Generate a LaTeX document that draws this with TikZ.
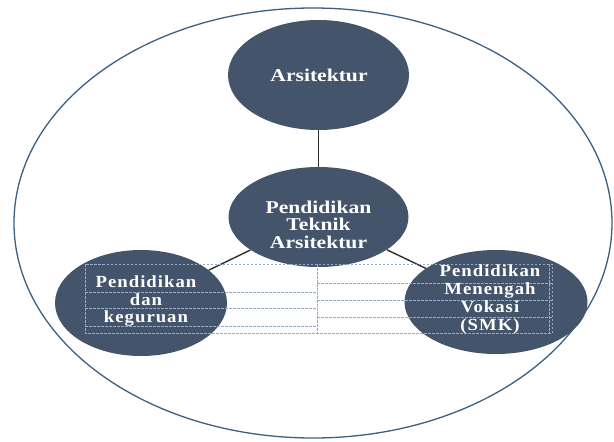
\documentclass[tikz,border=0pt]{standalone}
\usepackage{fontspec}
\usetikzlibrary{shapes.geometric}
\newfontfamily\wideserif[FakeStretch=1.2]{Liberation Serif}
\newfontfamily\spacedserif[FakeStretch=1.1,LetterSpace=6]{Liberation Serif}
\definecolor{blobfill}{HTML}{44546A}
\definecolor{ringline}{HTML}{3D5F80}
\definecolor{gridline}{HTML}{93AACB}
\definecolor{linkline}{HTML}{2F2F2F}

\begin{document}
\begin{tikzpicture}[x=1pt,y=-1pt,
  ring/.style={ellipse, draw=ringline, line width=1.3pt, inner sep=0pt,
    minimum width=598pt, minimum height=430pt},
  blob/.style={ellipse, fill=blobfill, inner sep=0pt},
  link/.style={draw=linkline, line width=1.4pt},
  grid/.style={draw=gridline, line width=0.7pt, dash pattern=on 2.5pt off 1.5pt},
  widetext/.style={text=white, inner sep=0pt, align=center,
    font=\wideserif\bfseries\fontsize{18}{17.5}\selectfont},
  spacedtext/.style={text=white, inner sep=0pt, align=center,
    font=\spacedserif\bfseries\fontsize{17}{17.8}\selectfont}]
\useasboundingbox (0,0) rectangle (614,442);

% outer frame
\node[ring] (ring) at (313,223) {};

% the four discs
\node[blob, minimum width=181pt, minimum height=110pt] (arsi) at (318.5,75) {};
\node[blob, minimum width=180pt, minimum height=100pt] (pta) at (318.5,217) {};
\node[blob, minimum width=172pt, minimum height=106pt] (pdk) at (141,303) {};
\node[blob, minimum width=183pt, minimum height=104pt] (smk) at (496,302) {};

% connectors
\draw[link] (pta) -- (arsi);
\draw[link] (pta) -- (pdk);
\draw[link] (pta) -- (smk);

% dashed text-frame grid
\draw[grid] (85,264) rectangle (552,333);
\draw[grid] (549,264) -- (549,333);
\draw[grid] (317,264) -- (317,333);
\foreach \yy in {292,308,326} \draw[grid] (85,\yy) -- (317,\yy);
\foreach \yy in {283,300,317} \draw[grid] (317,\yy) -- (552,\yy);

% labels
\node[widetext] (arsiT) at (319,75) {Arsitektur};
\node[widetext] (ptaT) at (318.5,224.5) {Pendidikan\\Teknik\\Arsitektur};
\node[spacedtext] (pdkT) at (146,301) {Pendidikan\\dan\\keguruan};
\node[spacedtext] (smkT) at (490,299.5) {Pendidikan\\Menengah\\Vokasi\\(SMK)};
\end{tikzpicture}
\end{document}
